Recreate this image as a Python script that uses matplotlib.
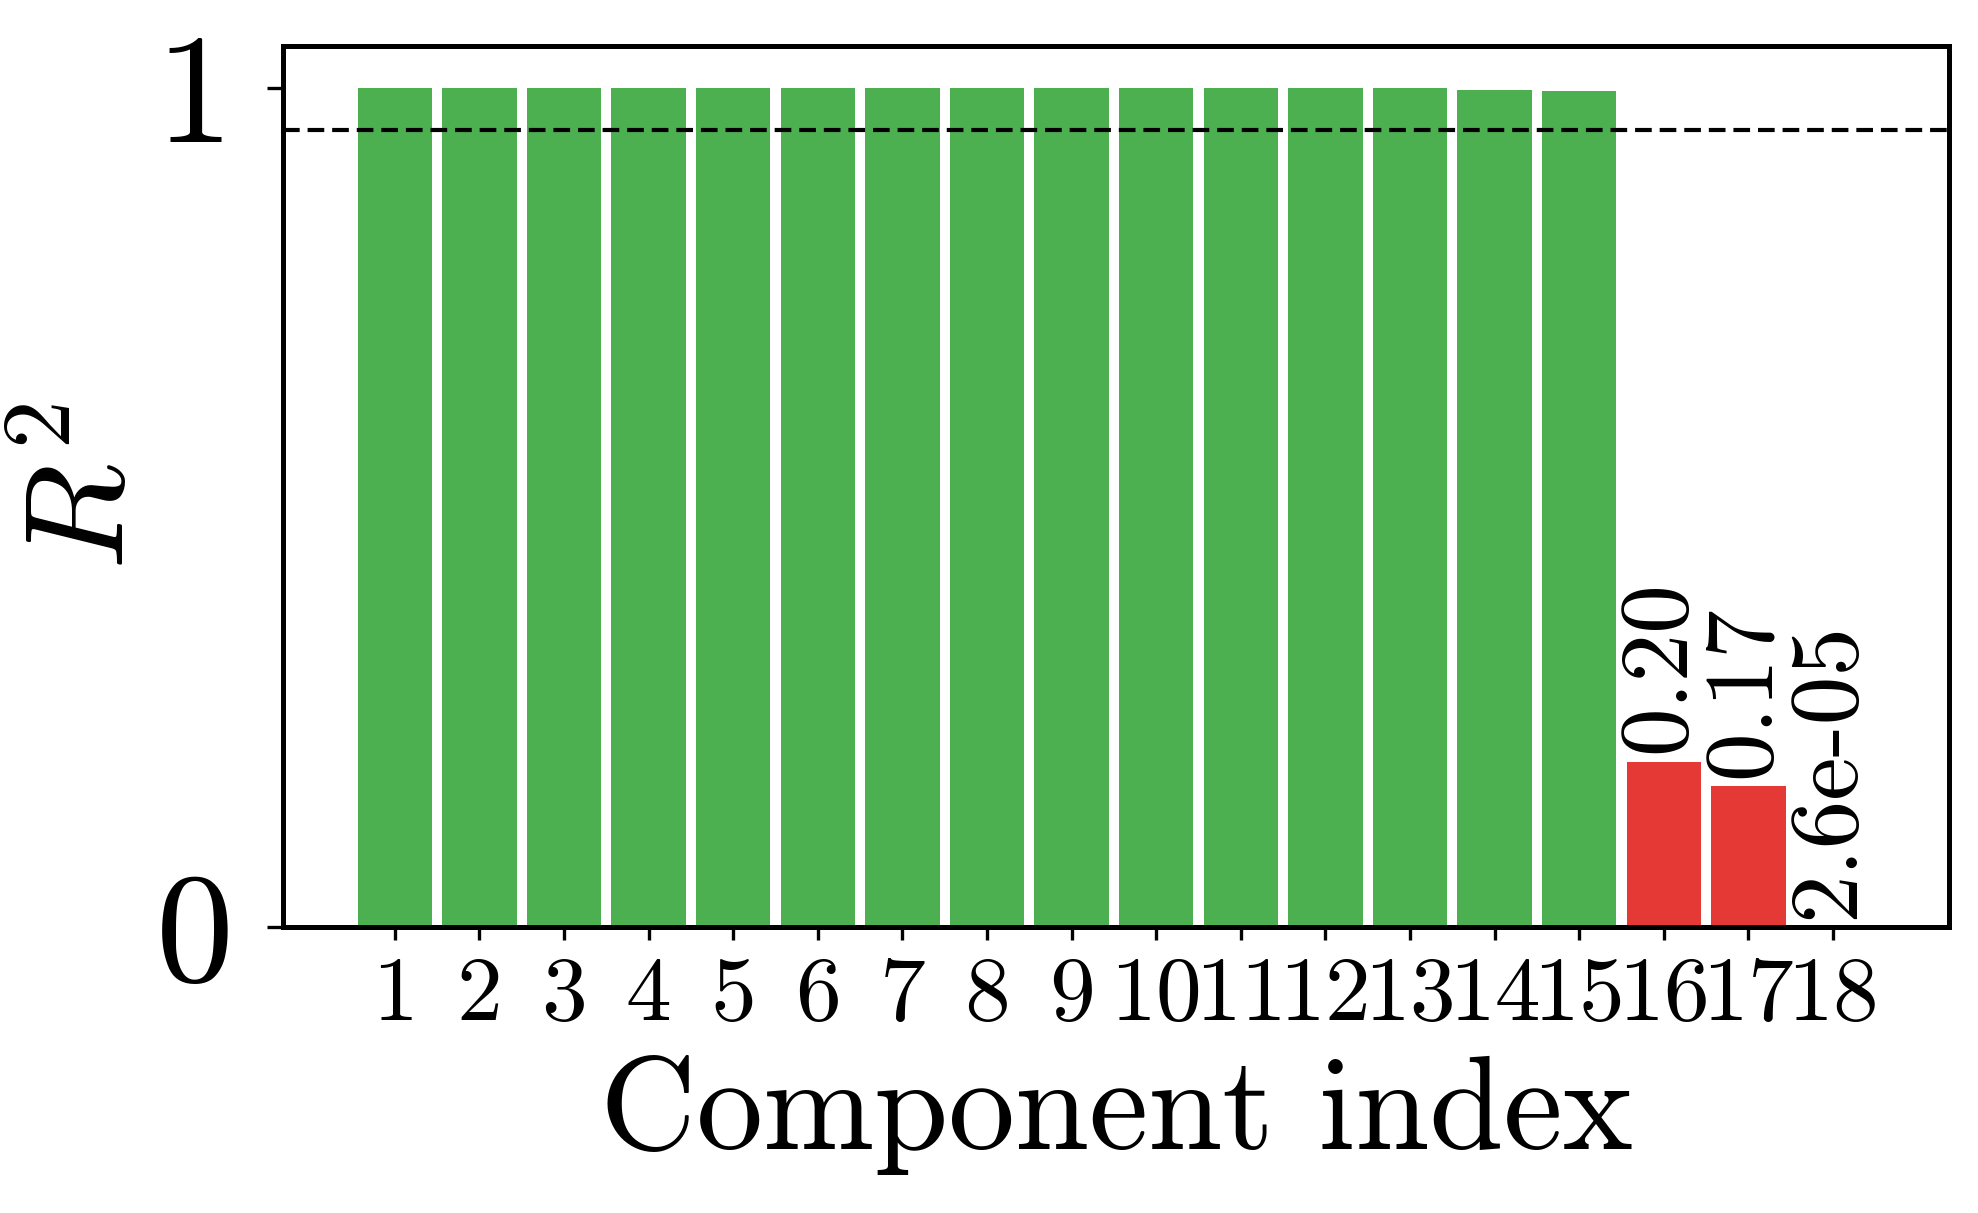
import numpy as np
import matplotlib
matplotlib.use('Agg')
import matplotlib.pyplot as plt

plt.rcParams['font.family'] = 'serif'
plt.rcParams['font.serif'] = ['cmr10']
plt.rcParams['mathtext.fontset'] = 'cm'
plt.rcParams['axes.unicode_minus'] = False

components = np.arange(1, 19)
r2 = [1.0, 1.0, 1.0, 1.0, 1.0, 1.0, 1.0, 1.0, 1.0, 1.0, 1.0, 1.0, 0.9995,
      0.9976, 0.9964, 0.197, 0.168, 2.6e-05]
labels = ['', '', '', '', '', '', '', '', '', '', '', '', '', '', '',
          '0.20', '0.17', '2.6e-05']
threshold = 0.95

green = '#4CAF50'
red = '#E53935'
colors = [green if v >= threshold else red for v in r2]

fig = plt.figure(figsize=(9.89, 6.065), dpi=200)
ax1 = fig.add_axes([0.1431, 0.2358, 0.8422, 0.7263])
ax1.bar(components, r2, width=0.88, color=colors)
ax1.axhline(threshold, color='k', lw=1.5, ls=(0, (4.0, 1.9)))

# value labels on the bars that fall under the threshold
for xi, v, s in zip(components, r2, labels):
    if s:
        ax1.text(xi - 0.05, v + 0.01, s, rotation=90, ha='center', va='bottom',
                 fontsize=35)

ax1.set_xlim(-0.32, 19.37)
ax1.set_ylim(0, 1.05)
ax1.set_xticks(components)
ax1.set_xticklabels([str(c) for c in components], fontsize=33)
ax1.set_yticks([0, 1])
ax1.set_yticklabels(['0', '1'], fontsize=56)
ax1.tick_params(axis='y', length=5.8, width=1.2, pad=12)
ax1.tick_params(axis='x', length=4.7, width=1.2, pad=6)
for s in ax1.spines.values():
    s.set_linewidth(1.8)
ax1.set_xlabel('Component index', fontsize=48, labelpad=6)
ax1.set_ylabel('$R^2$', fontsize=50, labelpad=2)

plt.savefig('out.png', dpi=200)
